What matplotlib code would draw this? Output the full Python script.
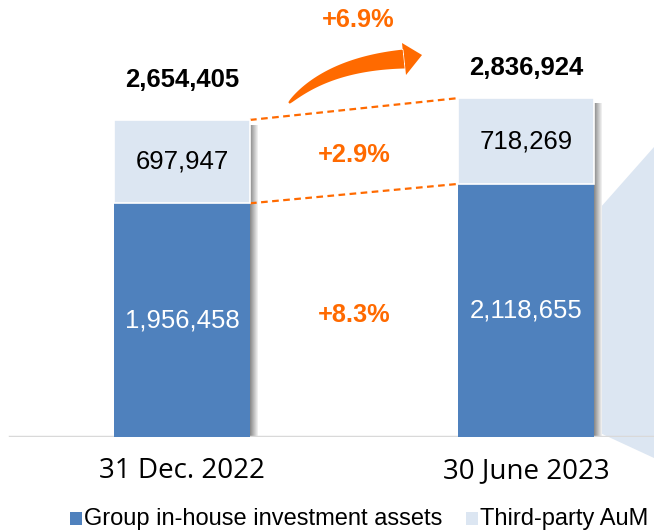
import matplotlib.pyplot as plt
import numpy as np
from matplotlib.patches import Rectangle, Polygon

# Data
dates = ["31 Dec. 2022", "30 June 2023"]
in_house = [1956458, 2118655]
third_party = [697947, 718269]
changes = ["+8.3%", "+2.9%", "+6.9%"]  # in-house, third-party, total
legend_labels = ["Group in-house investment assets", "Third-party AuM"]

DARK = "#4F81BD"
LIGHT = "#DCE6F2"
ORANGE = "#FF6A00"
W, H = 654, 531

fig = plt.figure(figsize=(W / 100, H / 100), dpi=100)
ax = fig.add_axes([0, 94 / H, 1, 437 / H])
ax.set_xlim(-182 / 344, (W - 182) / 344)
ax.set_ylim(0, 437 / 1.1945e-4)
ax.axis("off")

# overlay in pixel coords for decorations
ov = fig.add_axes([0, 0, 1, 1], zorder=-1)
ov.set_xlim(0, W)
ov.set_ylim(H, 0)
ov.axis("off")

x = np.arange(len(dates))
bw = 136 / 344
px = 1 / 344
totals = [a + b for a, b in zip(in_house, third_party)]
ypx = ax.get_ylim()[1] / 437

# shadows
for xi, tot in zip(x, totals):
    for k in range(8):
        g = 0.55 + 0.055 * k
        ax.add_patch(Rectangle((xi + bw / 2 + k * px, 0), px, tot - 5 * ypx,
                               color=(g, g, g), lw=0, zorder=1))

ax.bar(x, in_house, bw, color=DARK, zorder=3)
ax.bar(x, third_party, bw, bottom=in_house, color=LIGHT, edgecolor="white",
       linewidth=1.2, zorder=3)

# baseline
ax.axhline(0, xmin=10 / W, color="#D9D9D9", lw=2.5, zorder=2)

fnt = "Liberation Sans"
for i, (xi, a, b, tot, off) in enumerate(zip(x, in_house, third_party, totals, [40, 30])):
    ax.text(xi, a / 2, f"{a:,}", ha="center", va="center", color="white",
            fontsize=18.5, family=fnt, zorder=4)
    ax.text(xi, a + b / 2, f"{b:,}", ha="center", va="center", color="black",
            fontsize=18.5, family=fnt, zorder=4)
    ax.text(xi, tot + off * ypx, f"{tot:,}", ha="center", va="center",
            color="black", fontsize=18.5, fontweight="bold", family=fnt)
    ax.text(xi, -34 * ypx, dates[i], ha="center", va="center",
            fontsize=20, family="Open Sans")

# dashed connectors
for y0, y1 in [(totals[0], totals[1]), (in_house[0], in_house[1])]:
    ax.plot([x[0] + bw / 2, x[1] - bw / 2], [y0, y1], ls=(0, (3, 2)),
            color=ORANGE, lw=1.6, zorder=2)

mid = (x[0] + x[1]) / 2
pct = dict(ha="center", va="center", color=ORANGE, fontsize=18.3,
           fontweight="bold", family=fnt)
ax.text(mid, np.mean(in_house) / 2, changes[0], **pct)
ax.text(mid, np.mean([a + b / 2 for a, b in zip(in_house, third_party)]) - 4 * ypx,
        changes[1], **pct)
ax.text(mid + 4 * px, max(totals) + 78 * ypx, changes[2], **pct)

# curved tapered arrow (pixel coords)
p0, p1, p2 = np.array([289, 103]), np.array([328, 64]), np.array([404, 59])
t = np.linspace(0, 1, 40)[:, None]
c = (1 - t) ** 2 * p0 + 2 * (1 - t) * t * p1 + t ** 2 * p2
d = 2 * (1 - t) * (p1 - p0) + 2 * t * (p2 - p1)
n = np.c_[-d[:, 1], d[:, 0]] / np.linalg.norm(d, axis=1)[:, None]
wdt = 1 + 8.5 * t ** 0.7
upper = c + n * wdt
lower = c - n * wdt
head = [[402, 43], [422, 55], [406, 75]]
poly = np.vstack([upper, head, lower[::-1]])
ov.add_patch(Polygon(poly, closed=True, color=ORANGE, lw=0))

# right trapezoid
ov.add_patch(Polygon([[600, 208], [W, 147], [W, 458], [600, 433]],
                     closed=True, color=LIGHT, lw=0))

# legend
for lx, lab, col in zip([70, 466], legend_labels, [DARK, LIGHT]):
    ov.add_patch(Rectangle((lx, 512), 12, 13, color=col, lw=0))
    ov.text(lx + 14, 525, lab, ha="left", va="baseline", fontsize=17,
            family=fnt)

fig.savefig("out.png", dpi=100)
